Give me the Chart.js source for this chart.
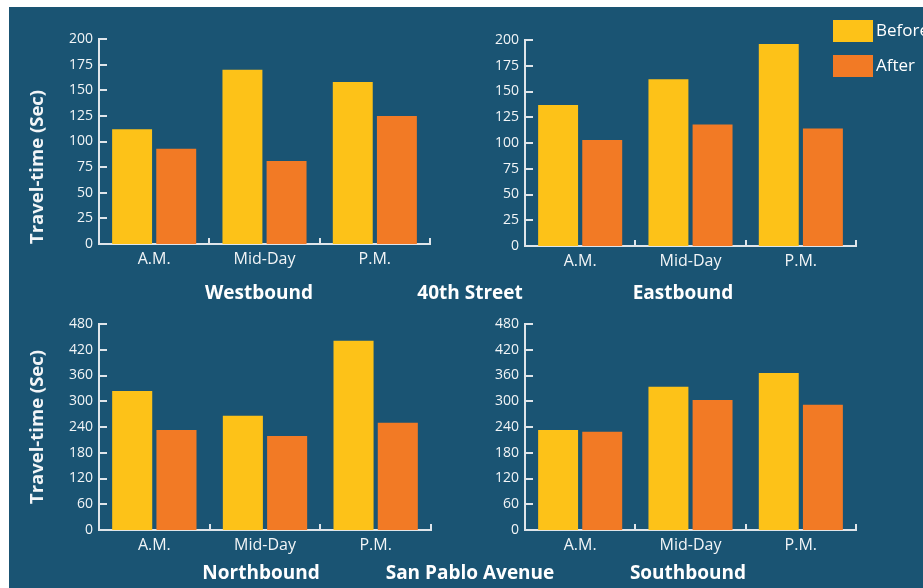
<!DOCTYPE html>
<html>
<head>
<meta charset="utf-8">
<title>Travel-time before and after</title>
<script src="https://cdn.jsdelivr.net/npm/chart.js@4.4.1/dist/chart.umd.min.js"></script>
<style>
  html, body { margin: 0; padding: 0; background: #fff; }
  #wrap { position: relative; width: 923px; height: 588px; overflow: hidden; font-family: "Open Sans", sans-serif; }
  #panel { position: absolute; left: 9px; top: 7px; right: 0; bottom: 0; background: #1a5473; }
  canvas { position: absolute; left: 0; top: 0; }
  .label { position: absolute; color: #fff; font-weight: 700; font-size: 19px; transform: translate(-50%, -50%); white-space: nowrap; }
  .key { position: absolute; width: 40px; height: 22px; }
  .keytext { position: absolute; color: #fff; font-size: 17px; line-height: 22px; white-space: nowrap; }
</style>
</head>
<body>
<div id="wrap">
  <div id="panel"></div>
  <canvas id="west" width="923" height="588"></canvas>
  <canvas id="east" width="923" height="588"></canvas>
  <canvas id="north" width="923" height="588"></canvas>
  <canvas id="south" width="923" height="588"></canvas>

  <div class="label" style="left:259px; top:292px;">Westbound</div>
  <div class="label" style="left:470px; top:292px;">40th Street</div>
  <div class="label" style="left:683px; top:292px;">Eastbound</div>
  <div class="label" style="left:261px; top:572px;">Northbound</div>
  <div class="label" style="left:470px; top:572px;">San Pablo Avenue</div>
  <div class="label" style="left:688px; top:572px;">Southbound</div>

  <div class="key" style="left:833px; top:20px; background:#fdc218;"></div>
  <div class="keytext" style="left:876px; top:19px;">Before</div>
  <div class="key" style="left:833px; top:55px; background:#f27a25;"></div>
  <div class="keytext" style="left:876px; top:54px;">After</div>
</div>

<script>
// periods of the day
var periods = ['A.M.', 'Mid-Day', 'P.M.'];

// 40th Street travel times (seconds)
var westBefore = [112, 170, 158];
var westAfter = [93, 81, 125];
var eastBefore = [137, 162, 196];
var eastAfter = [103, 118, 114];

// San Pablo Avenue travel times (seconds)
var northBefore = [324, 266, 441];
var northAfter = [233, 219, 250];
var southBefore = [233, 334, 366];
var southAfter = [229, 303, 292];

var yellow = '#fdc218';
var orange = '#f27a25';
var axisColor = '#dfe5ea';
var textColor = '#f2f5f7';
var W = 923, H = 588;

// short tick marks drawn on the inside of both axes
var innerTicks = {
    id: 'innerTicks',
    afterDraw: function(chart) {
        var ctx = chart.ctx;
        var x = chart.scales.x, y = chart.scales.y;
        ctx.save();
        ctx.strokeStyle = axisColor;
        ctx.lineWidth = 2;
        y.ticks.forEach(function(t, i) {
            var py = Math.round(y.getPixelForTick(i));
            ctx.beginPath();
            ctx.moveTo(y.right, py);
            ctx.lineTo(y.right + 8, py);
            ctx.stroke();
        });
        // separators between the period groups
        for (var i = 1; i <= periods.length; i++) {
            var px = Math.round(x.getPixelForValue(i - 0.5));
            ctx.beginPath();
            ctx.moveTo(px, x.top);
            ctx.lineTo(px, x.top - 6);
            ctx.stroke();
        }
        ctx.restore();
    }
};

function drawPanel(id, before, after, maxVal, step, area, titleAlign) {
    var yWidth = 90, xHeight = 40;
    new Chart(document.getElementById(id), {
        type: 'bar',
        data: {
            labels: periods,
            datasets: [
                { label: 'Before', data: before, backgroundColor: yellow },
                { label: 'After', data: after, backgroundColor: orange }
            ]
        },
        options: {
            responsive: false,
            animation: false,
            datasets: { bar: { categoryPercentage: 0.8, barPercentage: 0.905 } },
            layout: {
                padding: {
                    left: area.left - yWidth,
                    top: area.top,
                    right: W - area.right,
                    bottom: H - area.bottom - xHeight
                }
            },
            plugins: {
                legend: { display: false },
                tooltip: { enabled: false }
            },
            scales: {
                x: {
                    grid: { display: false, drawTicks: false },
                    border: { color: axisColor, width: 2 },
                    ticks: { color: textColor, font: { family: 'Open Sans', size: 16 }, padding: 6 },
                    afterFit: function(s) { s.height = xHeight; }
                },
                y: {
                    min: 0,
                    max: maxVal,
                    grid: { display: false, drawTicks: false },
                    border: { color: axisColor, width: 2 },
                    ticks: { stepSize: step, color: textColor, font: { family: 'Open Sans', size: 14 }, padding: 6 },
                    title: {
                        display: !!titleAlign,
                        text: 'Travel-time (Sec)',
                        color: textColor,
                        align: titleAlign || 'center',
                        font: { family: 'Open Sans', size: 18.5, weight: 'bold' },
                        padding: { top: 18, bottom: 0 }
                    },
                    afterFit: function(s) { s.width = yWidth; }
                }
            }
        },
        plugins: [innerTicks]
    });
}

drawPanel('west', westBefore, westAfter, 200, 25, { left: 99, top: 39, right: 430, bottom: 244 }, 'start');
drawPanel('east', eastBefore, eastAfter, 200, 25, { left: 525, top: 40, right: 856, bottom: 246 }, null);
drawPanel('north', northBefore, northAfter, 480, 60, { left: 99, top: 324, right: 431, bottom: 530 }, 'center');
drawPanel('south', southBefore, southAfter, 480, 60, { left: 525, top: 324, right: 856, bottom: 530 }, null);
</script>
</body>
</html>
